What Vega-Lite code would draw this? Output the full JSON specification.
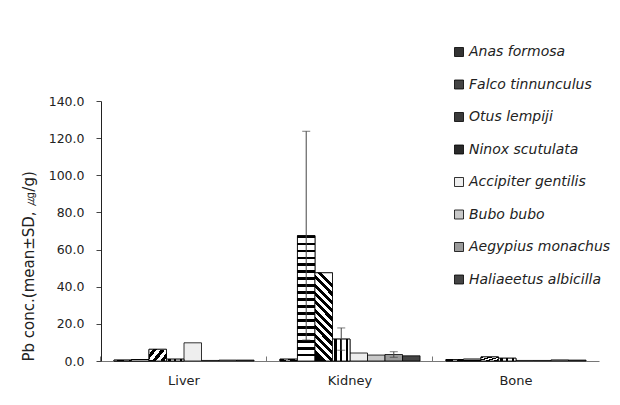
{
  "$schema": "https://vega.github.io/schema/vega-lite/v6.json",
  "width": 498,
  "height": 260,
  "autosize": "none",
  "padding": {"left": 101, "top": 101, "right": 21, "bottom": 44},
  "background": "white",
  "config": {
    "view": {"stroke": null},
    "font": "DejaVu Sans",
    "axis": {"labelFont": "DejaVu Sans", "labelColor": "#222", "titleColor": "#222", "domainColor": "#777", "tickColor": "#777", "grid": false}
  },
  "data": {
    "values": [
      {"tissue": "Liver", "species": "Anas formosa", "mean": 0.5},
      {"tissue": "Liver", "species": "Falco tinnunculus", "mean": 0.8},
      {"tissue": "Liver", "species": "Otus lempiji", "mean": 6.3},
      {"tissue": "Liver", "species": "Ninox scutulata", "mean": 1.0},
      {"tissue": "Liver", "species": "Accipiter gentilis", "mean": 9.8},
      {"tissue": "Liver", "species": "Bubo bubo", "mean": 0.3},
      {"tissue": "Liver", "species": "Aegypius monachus", "mean": 0.5},
      {"tissue": "Liver", "species": "Haliaeetus albicilla", "mean": 0.5},
      {"tissue": "Kidney", "species": "Anas formosa", "mean": 1.0},
      {"tissue": "Kidney", "species": "Falco tinnunculus", "mean": 67.5, "lo": 11.3, "hi": 123.7},
      {"tissue": "Kidney", "species": "Otus lempiji", "mean": 47.5},
      {"tissue": "Kidney", "species": "Ninox scutulata", "mean": 11.8, "lo": 5.8, "hi": 17.8},
      {"tissue": "Kidney", "species": "Accipiter gentilis", "mean": 4.3},
      {"tissue": "Kidney", "species": "Bubo bubo", "mean": 3.2},
      {"tissue": "Kidney", "species": "Aegypius monachus", "mean": 3.5, "lo": 2.0, "hi": 5.0},
      {"tissue": "Kidney", "species": "Haliaeetus albicilla", "mean": 2.8},
      {"tissue": "Bone", "species": "Anas formosa", "mean": 0.8},
      {"tissue": "Bone", "species": "Falco tinnunculus", "mean": 1.0},
      {"tissue": "Bone", "species": "Otus lempiji", "mean": 2.2},
      {"tissue": "Bone", "species": "Ninox scutulata", "mean": 1.5},
      {"tissue": "Bone", "species": "Accipiter gentilis", "mean": 0.3},
      {"tissue": "Bone", "species": "Bubo bubo", "mean": 0.3},
      {"tissue": "Bone", "species": "Aegypius monachus", "mean": 0.6},
      {"tissue": "Bone", "species": "Haliaeetus albicilla", "mean": 0.5}
    ]
  },
  "encoding": {
    "x": {
      "field": "tissue", "type": "nominal", "sort": ["Liver", "Kidney", "Bone"],
      "scale": {"paddingInner": 0.156, "paddingOuter": 0.078},
      "axis": {"title": null, "labelAngle": 0, "labelFontSize": 13, "labelPadding": 18, "tickSize": -5, "bandPosition": -0.093}
    },
    "xOffset": {
      "field": "species", "type": "nominal",
      "sort": ["Anas formosa", "Falco tinnunculus", "Otus lempiji", "Ninox scutulata", "Accipiter gentilis", "Bubo bubo", "Aegypius monachus", "Haliaeetus albicilla"],
      "scale": {"paddingInner": 0, "paddingOuter": 0}
    },
    "y": {
      "field": "mean", "type": "quantitative",
      "scale": {"domain": [0, 140], "nice": false},
      "axis": {"values": [0, 20, 40, 60, 80, 100, 120, 140], "format": ".1f", "labelFontSize": 12.5, "labelPadding": 12, "tickSize": 5, "domainColor": "#222", "tickColor": "#444",
               "title": "Pb conc.(mean±SD, ㎍/g)", "titleFont": "DejaVu Sans", "titleFontWeight": "normal", "titleFontSize": 15, "titlePadding": 12, "titleAnchor": "start"}
    }
  },
  "layer": [
    {
      "mark": {"type": "bar", "stroke": "black", "strokeWidth": 0.8},
      "encoding": {
        "color": {
          "field": "species", "type": "nominal",
          "sort": ["Anas formosa", "Falco tinnunculus", "Otus lempiji", "Ninox scutulata", "Accipiter gentilis", "Bubo bubo", "Aegypius monachus", "Haliaeetus albicilla"],
          "scale": {
            "domain": ["Anas formosa", "Falco tinnunculus", "Otus lempiji", "Ninox scutulata", "Accipiter gentilis", "Bubo bubo", "Aegypius monachus", "Haliaeetus albicilla"],
            "range": ["#333333", "#444444", "#3a3a3a", "#2a2a2a", "#eeeeee", "#c8c8c8", "#9a9a9a", "#444444"]
          },
          "legend": {
            "title": null, "orient": "none", "legendX": 351, "legendY": -56,
            "symbolType": "square", "symbolSize": 81, "symbolStrokeColor": "black", "symbolStrokeWidth": 0.8, "symbolOpacity": 1,
            "labelFont": "DejaVu Sans", "labelFontStyle": "italic", "labelFontSize": 14, "labelColor": "#222", "labelOffset": 3, "rowPadding": 18.5, "labelLimit": 200
          }
        }
      }
    },
    {
      "transform": [{"filter": "datum.species === 'Anas formosa'"}],
      "mark": {"type": "bar", "stroke": "black", "strokeWidth": 0.8,
        "fill": {"gradient": "linear", "x1": 0, "y1": 0, "x2": 1, "y2": 1, "stops": [
          {"offset": 0, "color": "black"}, {"offset": 0.2, "color": "black"}, {"offset": 0.2, "color": "white"}, {"offset": 0.33, "color": "white"},
          {"offset": 0.33, "color": "black"}, {"offset": 0.53, "color": "black"}, {"offset": 0.53, "color": "white"}, {"offset": 0.66, "color": "white"},
          {"offset": 0.66, "color": "black"}, {"offset": 0.86, "color": "black"}, {"offset": 0.86, "color": "white"}, {"offset": 1, "color": "white"}]}}
    },
    {
      "transform": [{"filter": "datum.species === 'Falco tinnunculus'"}],
      "mark": {"type": "bar", "stroke": "black", "strokeWidth": 0.8,
        "fill": {"gradient": "linear", "x1": 0, "y1": 0, "x2": 0, "y2": 1, "stops": [
          {"offset": 0, "color": "black"}, {"offset": 0.0194, "color": "black"}, {"offset": 0.0194, "color": "white"}, {"offset": 0.0556, "color": "white"},
          {"offset": 0.0556, "color": "black"}, {"offset": 0.075, "color": "black"}, {"offset": 0.075, "color": "white"}, {"offset": 0.1111, "color": "white"},
          {"offset": 0.1111, "color": "black"}, {"offset": 0.1306, "color": "black"}, {"offset": 0.1306, "color": "white"}, {"offset": 0.1667, "color": "white"},
          {"offset": 0.1667, "color": "black"}, {"offset": 0.1861, "color": "black"}, {"offset": 0.1861, "color": "white"}, {"offset": 0.2222, "color": "white"},
          {"offset": 0.2222, "color": "black"}, {"offset": 0.2417, "color": "black"}, {"offset": 0.2417, "color": "white"}, {"offset": 0.2778, "color": "white"},
          {"offset": 0.2778, "color": "black"}, {"offset": 0.2972, "color": "black"}, {"offset": 0.2972, "color": "white"}, {"offset": 0.3333, "color": "white"},
          {"offset": 0.3333, "color": "black"}, {"offset": 0.3528, "color": "black"}, {"offset": 0.3528, "color": "white"}, {"offset": 0.3889, "color": "white"},
          {"offset": 0.3889, "color": "black"}, {"offset": 0.4083, "color": "black"}, {"offset": 0.4083, "color": "white"}, {"offset": 0.4444, "color": "white"},
          {"offset": 0.4444, "color": "black"}, {"offset": 0.4639, "color": "black"}, {"offset": 0.4639, "color": "white"}, {"offset": 0.5, "color": "white"},
          {"offset": 0.5, "color": "black"}, {"offset": 0.5194, "color": "black"}, {"offset": 0.5194, "color": "white"}, {"offset": 0.5556, "color": "white"},
          {"offset": 0.5556, "color": "black"}, {"offset": 0.575, "color": "black"}, {"offset": 0.575, "color": "white"}, {"offset": 0.6111, "color": "white"},
          {"offset": 0.6111, "color": "black"}, {"offset": 0.6306, "color": "black"}, {"offset": 0.6306, "color": "white"}, {"offset": 0.6667, "color": "white"},
          {"offset": 0.6667, "color": "black"}, {"offset": 0.6861, "color": "black"}, {"offset": 0.6861, "color": "white"}, {"offset": 0.7222, "color": "white"},
          {"offset": 0.7222, "color": "black"}, {"offset": 0.7417, "color": "black"}, {"offset": 0.7417, "color": "white"}, {"offset": 0.7778, "color": "white"},
          {"offset": 0.7778, "color": "black"}, {"offset": 0.7972, "color": "black"}, {"offset": 0.7972, "color": "white"}, {"offset": 0.8333, "color": "white"},
          {"offset": 0.8333, "color": "black"}, {"offset": 0.8528, "color": "black"}, {"offset": 0.8528, "color": "white"}, {"offset": 0.8889, "color": "white"},
          {"offset": 0.8889, "color": "black"}, {"offset": 0.9083, "color": "black"}, {"offset": 0.9083, "color": "white"}, {"offset": 0.9444, "color": "white"},
          {"offset": 0.9444, "color": "black"}, {"offset": 0.9639, "color": "black"}, {"offset": 0.9639, "color": "white"}, {"offset": 1, "color": "white"}]}}
    },
    {
      "transform": [{"filter": "datum.species === 'Otus lempiji'"}],
      "mark": {"type": "bar", "stroke": "black", "strokeWidth": 0.8,
        "fill": {"gradient": "linear", "x1": 0.4, "y1": 1, "x2": 0.6, "y2": 0, "stops": [
          {"offset": 0, "color": "black"}, {"offset": 0.0455, "color": "black"}, {"offset": 0.0455, "color": "white"}, {"offset": 0.0909, "color": "white"},
          {"offset": 0.0909, "color": "black"}, {"offset": 0.1364, "color": "black"}, {"offset": 0.1364, "color": "white"}, {"offset": 0.1818, "color": "white"},
          {"offset": 0.1818, "color": "black"}, {"offset": 0.2273, "color": "black"}, {"offset": 0.2273, "color": "white"}, {"offset": 0.2727, "color": "white"},
          {"offset": 0.2727, "color": "black"}, {"offset": 0.3182, "color": "black"}, {"offset": 0.3182, "color": "white"}, {"offset": 0.3636, "color": "white"},
          {"offset": 0.3636, "color": "black"}, {"offset": 0.4091, "color": "black"}, {"offset": 0.4091, "color": "white"}, {"offset": 0.4545, "color": "white"},
          {"offset": 0.4545, "color": "black"}, {"offset": 0.5, "color": "black"}, {"offset": 0.5, "color": "white"}, {"offset": 0.5455, "color": "white"},
          {"offset": 0.5455, "color": "black"}, {"offset": 0.5909, "color": "black"}, {"offset": 0.5909, "color": "white"}, {"offset": 0.6364, "color": "white"},
          {"offset": 0.6364, "color": "black"}, {"offset": 0.6818, "color": "black"}, {"offset": 0.6818, "color": "white"}, {"offset": 0.7273, "color": "white"},
          {"offset": 0.7273, "color": "black"}, {"offset": 0.7727, "color": "black"}, {"offset": 0.7727, "color": "white"}, {"offset": 0.8182, "color": "white"},
          {"offset": 0.8182, "color": "black"}, {"offset": 0.8636, "color": "black"}, {"offset": 0.8636, "color": "white"}, {"offset": 0.9091, "color": "white"},
          {"offset": 0.9091, "color": "black"}, {"offset": 0.9545, "color": "black"}, {"offset": 0.9545, "color": "white"}, {"offset": 1, "color": "white"}]}}
    },
    {
      "transform": [{"filter": "datum.species === 'Ninox scutulata'"}],
      "mark": {"type": "bar", "stroke": "black", "strokeWidth": 0.8,
        "fill": {"gradient": "linear", "x1": 0, "y1": 0, "x2": 1, "y2": 0, "stops": [
          {"offset": 0, "color": "white"}, {"offset": 0.1, "color": "white"}, {"offset": 0.1, "color": "black"}, {"offset": 0.23, "color": "black"},
          {"offset": 0.23, "color": "white"}, {"offset": 0.43, "color": "white"}, {"offset": 0.43, "color": "black"}, {"offset": 0.56, "color": "black"},
          {"offset": 0.56, "color": "white"}, {"offset": 0.77, "color": "white"}, {"offset": 0.77, "color": "black"}, {"offset": 0.9, "color": "black"},
          {"offset": 0.9, "color": "white"}, {"offset": 1, "color": "white"}]}}
    },
    {
      "transform": [{"filter": "isValid(datum.hi)"}],
      "mark": {"type": "rule", "color": "#444", "strokeWidth": 1},
      "encoding": {"y": {"field": "lo", "type": "quantitative"}, "y2": {"field": "hi"}}
    },
    {
      "transform": [{"filter": "isValid(datum.hi)"}],
      "mark": {"type": "tick", "color": "#444", "thickness": 1, "size": 8},
      "encoding": {"y": {"field": "hi", "type": "quantitative"}}
    },
    {
      "transform": [{"filter": "isValid(datum.lo)"}],
      "mark": {"type": "tick", "color": "#444", "thickness": 1, "size": 8},
      "encoding": {"y": {"field": "lo", "type": "quantitative"}}
    }
  ]
}
